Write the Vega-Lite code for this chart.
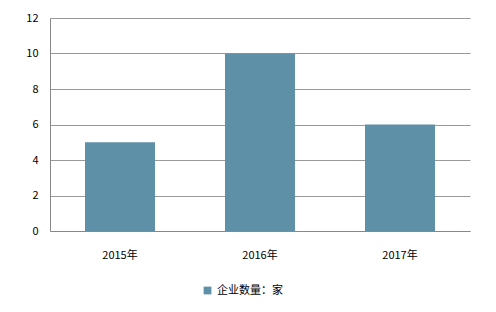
{
  "$schema": "https://vega.github.io/schema/vega-lite/v6.json",
  "width": 420,
  "height": 213,
  "autosize": "none",
  "padding": {"left": 50, "top": 18, "right": 26, "bottom": 81},
  "background": "white",
  "config": {
    "view": {"stroke": null},
    "font": "Noto Sans CJK SC",
    "axis": {"labelFont": "Noto Sans CJK SC", "labelFontSize": 11, "labelColor": "#000000", "title": null}
  },
  "data": {
    "values": [
      {"year": "2015年", "count": 5, "series": "企业数量：家"},
      {"year": "2016年", "count": 10, "series": "企业数量：家"},
      {"year": "2017年", "count": 6, "series": "企业数量：家"}
    ]
  },
  "mark": {"type": "bar"},
  "encoding": {
    "x": {
      "field": "year", "type": "nominal",
      "scale": {"paddingInner": 0.5, "paddingOuter": 0.25},
      "axis": {"labelAngle": 0, "ticks": false, "domainColor": "#888888", "labelPadding": 18, "grid": false}
    },
    "y": {
      "field": "count", "type": "quantitative",
      "scale": {"domain": [0, 12]},
      "axis": {"values": [0, 2, 4, 6, 8, 10, 12], "ticks": false, "domainColor": "#888888", "gridColor": "#999999", "labelPadding": 12}
    },
    "color": {
      "field": "series", "type": "nominal",
      "scale": {"range": ["#5E90A7"]},
      "legend": {"title": null, "orient": "none", "legendX": 152, "legendY": 267, "symbolType": "square", "symbolSize": 60, "labelFontSize": 11, "labelFont": "Noto Sans CJK SC", "labelColor": "#000000"}
    }
  }
}
